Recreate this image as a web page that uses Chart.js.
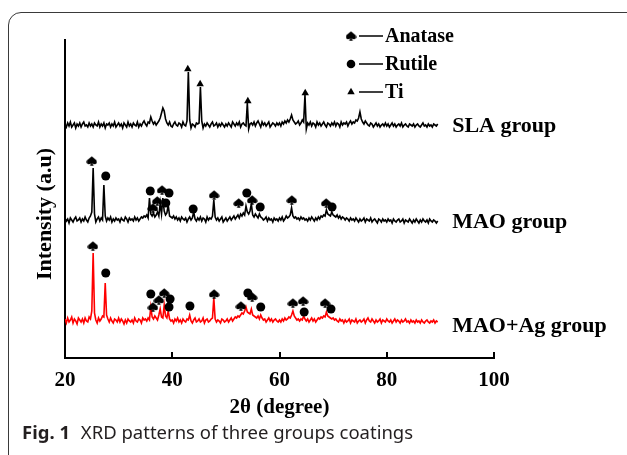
<!DOCTYPE html>
<html lang="en">
<head>
<meta charset="UTF-8">
<title>XRD patterns</title>
<script src="https://cdn.jsdelivr.net/npm/chart.js"></script>
<style>
    body { margin: 0; width: 627px; height: 455px; overflow: hidden; background: #fff; position: relative; }
    .frame { position: absolute; left: 8px; top: 12px; width: 700px; height: 500px; border: 1.5px solid #3a3a3a; border-top-left-radius: 13px; }
    #chart { position: absolute; left: 0; top: 0; }
    .caption { position: absolute; left: 22px; top: 419px; font-family: 'Noto Sans'; font-size: 18.5px; color: #231f20; white-space: nowrap; }
    .caption b { margin-right: 6px; }
</style>
</head>
<body>
<div class="frame"></div>
<canvas id="chart" width="627" height="420"></canvas>
<div class="caption"><b>Fig. 1</b> XRD patterns of three groups coatings</div>

<script>
    // 2theta grid: 20 .. 89.5 degrees, step 0.25
    var angleStart = 20;
    var angleStep = 0.25;
    var tickValues = [20, 40, 60, 80, 100];

    var groupNames = ['SLA group', 'MAO group', 'MAO+Ag group'];
    var traceBase = [233, 138, 37];        // vertical offset of each pattern (a.u)
    var groupLabelY = [232, 136, 32];
    var labelAngle = 92.2;

    // intensity above each baseline, one value per grid step
    var slaRel = [
        1,-2,2,-1,3,-2,0,2,-3,1,-1,2,-2,1,3,-1,0,-2,2,-1,
        1,-2,2,0,-1,3,-2,1,-1,2,-3,1,0,2,-2,1,-1,3,-2,0,
        2,-1,1,-3,2,0,-2,3,-1,1,-2,2,0,-1,3,-2,1,-1,2,4,
        1,-1,3,2,8,4,1,3,0,2,4,7,12,17,14,6,2,0,3,-1,
        -2,1,3,0,-1,2,1,-2,3,0,-1,4,53,5,-3,1,0,-2,2,1,
        2,38,4,-3,1,-1,2,0,-2,1,3,-1,0,2,-2,1,-1,2,0,-2,
        1,-1,2,0,-2,3,1,-1,2,0,3,-2,1,2,0,-1,22,-4,1,2,
        0,3,-1,2,4,1,-2,3,0,2,-1,1,3,-2,0,2,1,-1,2,0,
        2,-1,3,1,4,2,5,3,6,10,5,3,1,2,4,0,2,5,3,30,
        -4,2,0,3,-1,2,1,-2,3,0,2,-1,1,3,0,-2,2,1,-1,2,
        0,3,-1,2,1,-2,3,0,2,1,3,-1,2,4,1,3,2,5,4,7,
        13,6,3,1,4,2,0,-1,2,1,-2,0,2,-1,1,-2,0,1,-1,2,
        -1,1,-2,0,2,-1,1,-2,0,1,-1,2,-2,0,1,-1,-2,1,0,-1,
        1,-2,0,1,-1,-2,0,2,-1,0,-2,1,-1,0,-2,1,0,-1,1
    ];
    var maoRel = [
        2,-1,1,-3,2,0,-2,1,3,-1,0,2,-2,1,-1,3,0,-2,2,4,
        8,52,6,-2,1,3,-1,2,0,35,4,-1,2,0,3,-2,1,-1,2,0,
        1,-2,2,0,-1,3,1,-2,2,0,1,-1,3,0,2,-1,1,3,2,4,
        3,5,2,22,6,4,7,3,5,8,4,17,6,22,9,5,7,15,4,3,
        2,4,1,3,0,2,-1,3,1,0,2,-2,1,3,0,2,8,1,-1,2,
        0,3,-1,2,1,-2,3,0,2,1,4,20,3,0,2,-1,1,3,-2,0,
        2,-1,1,3,0,2,4,1,3,5,2,6,4,7,5,14,8,6,9,16,
        5,3,6,4,2,6,3,2,0,1,3,-1,2,0,1,-2,2,0,1,-1,
        2,0,3,-1,1,4,2,3,5,12,4,2,3,1,2,0,3,1,2,0,
        1,-1,2,0,3,1,-1,2,0,3,1,4,3,5,4,10,6,5,4,8,
        5,4,3,5,2,4,1,3,2,0,2,1,-1,2,0,1,-1,2,0,-2,
        1,-1,0,2,-2,1,0,-1,2,-2,0,1,-1,-3,1,0,-2,1,-1,0,
        -2,1,-1,0,-3,1,-1,-2,0,1,-2,-1,1,-3,0,-1,-2,1,-1,-3,
        0,-2,1,-1,-3,0,-2,1,-1,-2,0,-3,1,-1,-2,0,-1,-3,-1
    ];
    var maoAgRel = [
        2,-2,3,-1,1,4,-2,2,0,-3,3,1,-1,2,-2,3,0,-1,4,2,
        10,68,8,1,-2,3,0,2,5,4,38,6,2,-1,3,0,-2,2,1,-1,
        3,-1,2,0,-3,1,-2,2,0,-1,1,-2,3,0,-1,2,1,-2,3,1,
        2,0,3,1,14,4,2,5,3,1,6,12,4,3,16,5,3,10,2,0,
        1,-2,2,0,3,-1,1,-2,2,0,-1,2,1,6,0,-2,1,3,-1,0,
        2,-1,0,3,-2,1,2,-1,0,2,3,23,2,-1,1,0,-2,2,1,-1,
        0,2,-1,1,3,0,2,4,3,5,4,6,8,7,10,14,9,8,7,12,
        6,5,4,3,5,2,6,3,1,2,-1,1,3,0,2,-1,1,2,0,-1,
        1,-1,2,0,3,1,2,4,3,6,10,5,3,1,2,0,2,1,5,2,
        0,2,-1,1,3,0,2,-1,1,3,2,4,3,5,4,9,5,4,3,2,
        3,1,2,0,-1,2,0,1,-2,1,-1,0,2,-2,1,0,-1,2,-2,0,
        1,-1,0,2,-2,1,3,0,-1,2,0,-2,1,-1,0,2,-2,1,0,-1,
        2,0,-1,1,-2,0,2,-1,1,0,-2,1,-1,0,2,-1,0,-2,1,-1,
        0,-2,1,-1,0,-2,1,-1,-2,0,1,-1,-2,0,-1,1,-2,0,-1
    ];

    // phase markers (2theta, a.u)
    var tiX = [42.9, 45.2, 54.1, 64.8];
    var tiY = [289, 274, 257, 265];
    var maoAnataseX = [25.0, 36.4, 37.2, 38.1, 47.8, 52.4, 54.9, 62.3, 68.7];
    var maoAnataseY = [197, 150, 157, 168, 163, 155, 158, 158, 155];
    var maoRutileX = [27.6, 35.9, 38.8, 39.4, 43.9, 53.9, 56.4, 69.8];
    var maoRutileY = [182, 167, 155, 165, 149, 165, 151, 151];
    var agAnataseX = [25.2, 36.4, 37.5, 38.5, 47.8, 52.8, 54.9, 62.5, 64.4, 68.5];
    var agAnataseY = [112, 51, 58, 65, 64, 52, 61, 55, 57, 55];
    var agRutileX = [27.6, 36.0, 39.4, 39.6, 43.3, 54.1, 56.5, 64.6, 69.6];
    var agRutileY = [85, 64, 51, 59, 52, 65, 51, 46, 49];

    var legendNames = ['Anatase', 'Rutile', 'Ti'];

    function trace(rel, base) {
        var pts = [];
        for (let i = 0; i < rel.length; i++) {
            pts.push({ x: angleStart + i * angleStep, y: base + rel[i] });
        }
        return pts;
    }

    function marks(xs, ys) {
        return xs.map((x, i) => ({ x: x, y: ys[i] }));
    }

    // spade-like symbol for anatase
    function makeSpade() {
        const c = document.createElement('canvas');
        c.width = 11; c.height = 10;
        const g = c.getContext('2d');
        g.fillStyle = '#000';
        g.beginPath();
        g.moveTo(5.5, 0.3);
        g.bezierCurveTo(7.5, 2.5, 11, 3.8, 10.6, 6.4);
        g.bezierCurveTo(10.2, 8.6, 7, 8.6, 5.5, 7);
        g.bezierCurveTo(4, 8.6, 0.8, 8.6, 0.4, 6.4);
        g.bezierCurveTo(0, 3.8, 3.5, 2.5, 5.5, 0.3);
        g.fill();
        g.beginPath();
        g.moveTo(5.5, 6); g.lineTo(7.4, 9.8); g.lineTo(3.6, 9.8);
        g.closePath(); g.fill();
        return c;
    }
    var spade = makeSpade();

    var anatasePt = { pointStyle: spade, pointRadius: 5, backgroundColor: '#000', borderWidth: 0, order: 0 };
    var rutilePt = { pointStyle: 'circle', pointRadius: 4.5, backgroundColor: '#000', borderWidth: 0, order: 0 };
    var tiPt = { pointStyle: 'triangle', pointRadius: 4.3, backgroundColor: '#000', borderWidth: 0, order: 0 };

    var lineStyle = { showLine: true, pointRadius: 0, borderWidth: 1.6, tension: 0, order: 1 };

    const decor = {
        id: 'decor',
        afterDraw(chart) {
            const ctx = chart.ctx, xs = chart.scales.x, ys = chart.scales.y, a = chart.chartArea;
            ctx.save();
            // inward tick marks
            ctx.strokeStyle = '#000';
            ctx.lineWidth = 2;
            tickValues.forEach(v => {
                if (v === 20) return;
                const px = Math.round(xs.getPixelForValue(v));
                ctx.beginPath();
                ctx.moveTo(px, a.bottom);
                ctx.lineTo(px, a.bottom - 6);
                ctx.stroke();
            });

            ctx.fillStyle = '#000';
            ctx.textBaseline = 'middle';

            // group names
            ctx.font = 'bold 22px "Liberation Serif"';
            ctx.textAlign = 'left';
            groupNames.forEach((n, k) => {
                ctx.fillText(n, xs.getPixelForValue(labelAngle), ys.getPixelForValue(groupLabelY[k]));
            });

            // legend
            const styles = [spade, 'circle', 'triangle'];
            ctx.font = 'bold 20px "Liberation Serif"';
            legendNames.forEach((n, k) => {
                const y = 36 + k * 28;
                Chart.helpers.drawPoint(ctx, { pointStyle: styles[k], radius: 4.3, rotation: 0, borderWidth: 0 }, 351, y);
                ctx.beginPath();
                ctx.lineWidth = 1.5;
                ctx.moveTo(359, y);
                ctx.lineTo(383, y);
                ctx.stroke();
                ctx.fillText(n, 385, y + 1);
            });

            // axis titles
            ctx.font = 'bold 21px "Liberation Serif"';
            ctx.textAlign = 'center';
            ctx.fillText('2θ (degree)', (a.left + a.right) / 2, 408);
            ctx.translate(45, 214);
            ctx.rotate(-Math.PI / 2);
            ctx.font = 'bold 22px "Liberation Serif"';
            ctx.fillText('Intensity (a.u)', 0, 0);
            ctx.restore();
        }
    };

    new Chart(document.getElementById('chart'), {
        type: 'scatter',
        data: {
            datasets: [
                Object.assign({ label: 'SLA group', data: trace(slaRel, traceBase[0]), borderColor: '#000' }, lineStyle),
                Object.assign({ label: 'MAO group', data: trace(maoRel, traceBase[1]), borderColor: '#000' }, lineStyle),
                Object.assign({ label: 'MAO+Ag group', data: trace(maoAgRel, traceBase[2]), borderColor: '#ff0000' }, lineStyle),
                Object.assign({ label: 'Ti', data: marks(tiX, tiY) }, tiPt),
                Object.assign({ label: 'Anatase MAO', data: marks(maoAnataseX, maoAnataseY) }, anatasePt),
                Object.assign({ label: 'Rutile MAO', data: marks(maoRutileX, maoRutileY) }, rutilePt),
                Object.assign({ label: 'Anatase MAO+Ag', data: marks(agAnataseX, agAnataseY) }, anatasePt),
                Object.assign({ label: 'Rutile MAO+Ag', data: marks(agRutileX, agRutileY) }, rutilePt)
            ]
        },
        options: {
            responsive: false,
            animation: false,
            devicePixelRatio: 1,
            layout: { padding: { left: 0, right: 133, top: 40, bottom: 0 } },
            plugins: { legend: { display: false }, tooltip: { enabled: false } },
            scales: {
                x: {
                    type: 'linear', min: 20, max: 100,
                    afterFit(s) { s.height = 62; },
                    afterBuildTicks(s) { s.ticks = tickValues.map(v => ({ value: v })); },
                    grid: { display: false },
                    border: { display: true, color: '#000', width: 2 },
                    ticks: { color: '#000', padding: 2, maxRotation: 0, autoSkip: false,
                             font: { family: 'Liberation Serif', size: 21, weight: 'bold' } }
                },
                y: {
                    min: 0, max: 318,
                    afterFit(s) { s.width = 65; },
                    grid: { display: false },
                    border: { display: true, color: '#000', width: 2 },
                    ticks: { display: false }
                }
            }
        },
        plugins: [decor]
    });
</script>
</body>
</html>
